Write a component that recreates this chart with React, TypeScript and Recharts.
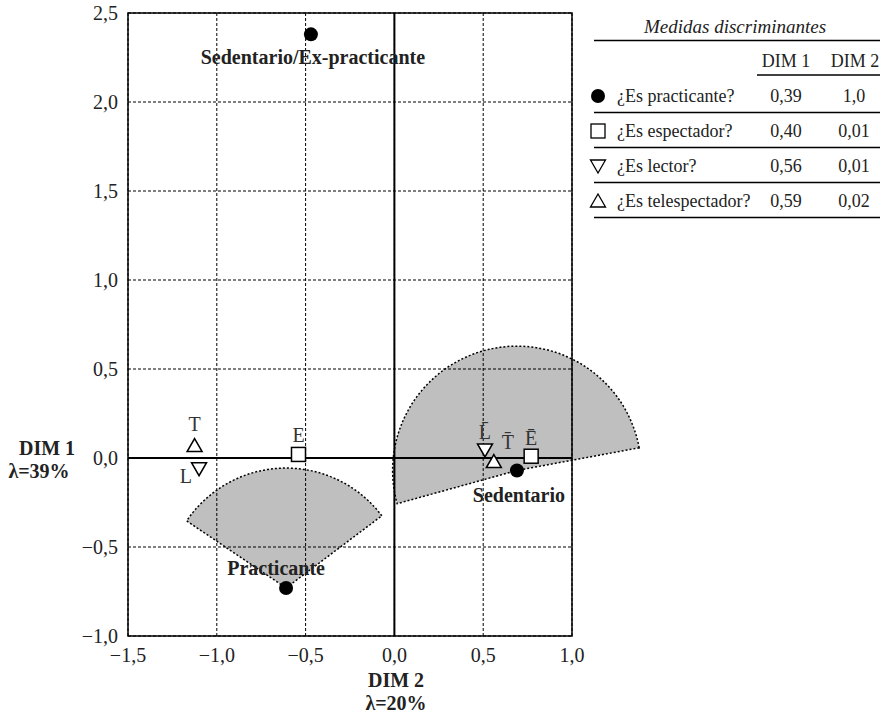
import { ScatterChart, Scatter, XAxis, YAxis, CartesianGrid, ReferenceLine, ReferenceArea, Sector } from 'recharts';

// axis ticks
const X_TICKS = [-1.5, -1, -0.5, 0, 0.5, 1];
const Y_TICKS = [-1, -0.5, 0, 0.5, 1, 1.5, 2, 2.5];

// category points (DIM 2 = x, DIM 1 = y)
const PRACTICANTE = [
  { x: -0.47, y: 2.38, label: 'Sedentario/Ex-practicante' },
  { x: -0.61, y: -0.73, label: 'Practicante' },
  { x: 0.69, y: -0.07, label: 'Sedentario' },
];
const ESPECTADOR = [
  { x: -0.54, y: 0.02, label: 'E' },
  { x: 0.77, y: 0.01, label: 'Ē' },
];
const LECTOR = [
  { x: -1.1, y: -0.06, label: 'L' },
  { x: 0.51, y: 0.045, label: 'L̄' },
];
const TELESPECTADOR = [
  { x: -1.125, y: 0.07, label: 'T' },
  { x: 0.56, y: -0.02, label: 'T̄' },
];

// shaded zones: centre, radius (axis units), angle span in degrees
const ZONES = [
  { x: -0.61, y: -0.73, r: 0.675, from: 37, to: 146 },
  { x: 0.69, y: -0.07, r: 0.7, from: 10.5, to: 195.5 },
];

// discriminant measures table
const MEASURES = ['¿Es practicante?', '¿Es espectador?', '¿Es lector?', '¿Es telespectador?'];
const DIM1_VALUES = ['0,39', '0,40', '0,56', '0,59'];
const DIM2_VALUES = ['1,0', '0,01', '0,01', '0,02'];

const FONT = '"Liberation Serif", "DejaVu Serif", serif';
const PLOT_W = 444;
const PX_PER_UNIT = PLOT_W / 2.5;

// label placement relative to marker
const LABEL_POS: Record<string, { dx: number; dy: number; anchor?: string; bold?: boolean }> = {
  'Sedentario/Ex-practicante': { dx: 2, dy: 30, bold: true },
  Practicante: { dx: -10, dy: -13, bold: true },
  Sedentario: { dx: 2, dy: 32, bold: true },
  E: { dx: 0, dy: -12 },
  'Ē': { dx: 0, dy: -11 },
  L: { dx: -7, dy: 14, anchor: 'end' },
  'L̄': { dx: 0, dy: -11 },
  T: { dx: 0, dy: -15 },
  'T̄': { dx: 14, dy: -13 },
};

const fmt = (v: number) => (v < 0 ? '−' : '') + Math.abs(v).toFixed(1).replace('.', ',');

function PointLabel({ cx, cy, text }: { cx: number; cy: number; text: string }) {
  const p = LABEL_POS[text] || { dx: 0, dy: -12 };
  return (
    <text
      x={cx + p.dx}
      y={cy + p.dy}
      textAnchor={p.anchor || 'middle'}
      fontFamily={FONT}
      fontSize={20}
      fontWeight={p.bold ? 'bold' : 'normal'}
      fill={p.bold ? '#222' : '#333'}
    >
      {text}
    </text>
  );
}

const CircleShape = (props: any) => (
  <g>
    <circle cx={props.cx} cy={props.cy} r={7} fill="#000" />
    <PointLabel cx={props.cx} cy={props.cy} text={props.payload.label} />
  </g>
);

const SquareShape = (props: any) => (
  <g>
    <rect x={props.cx - 7} y={props.cy - 7} width={14} height={14} fill="#fff" stroke="#000" strokeWidth={1.5} />
    <PointLabel cx={props.cx} cy={props.cy} text={props.payload.label} />
  </g>
);

const DownShape = (props: any) => {
  const { cx, cy } = props;
  return (
    <g>
      <polygon points={`${cx - 7.5},${cy - 6} ${cx + 7.5},${cy - 6} ${cx},${cy + 7}`} fill="#fff" stroke="#000" strokeWidth={1.5} />
      <PointLabel cx={cx} cy={cy} text={props.payload.label} />
    </g>
  );
};

const UpShape = (props: any) => {
  const { cx, cy } = props;
  return (
    <g>
      <polygon points={`${cx},${cy - 7} ${cx + 7.5},${cy + 6} ${cx - 7.5},${cy + 6}`} fill="#fff" stroke="#000" strokeWidth={1.5} />
      <PointLabel cx={cx} cy={cy} text={props.payload.label} />
    </g>
  );
};

const ZoneShape = (props: any) => (
  <Sector
    cx={props.cx}
    cy={props.cy}
    innerRadius={0}
    outerRadius={props.payload.r * PX_PER_UNIT}
    startAngle={props.payload.from}
    endAngle={props.payload.to}
    fill="#000"
    fillOpacity={0.25}
    stroke="#000"
    strokeWidth={1.5}
    strokeDasharray="2 2"
  />
);

const ICONS = [
  (x: number, y: number) => <circle cx={x} cy={y} r={7} fill="#000" />,
  (x: number, y: number) => <rect x={x - 7} y={y - 7} width={14} height={14} fill="#fff" stroke="#000" strokeWidth={1.3} />,
  (x: number, y: number) => <polygon points={`${x - 7.5},${y - 6} ${x + 7.5},${y - 6} ${x},${y + 7}`} fill="#fff" stroke="#000" strokeWidth={1.3} />,
  (x: number, y: number) => <polygon points={`${x},${y - 7} ${x + 7.5},${y + 6} ${x - 7.5},${y + 6}`} fill="#fff" stroke="#000" strokeWidth={1.3} />,
];

export default function App() {
  const tick = { fontFamily: FONT, fontSize: 20, fill: '#222' };
  return (
    <div style={{ position: 'absolute', left: 0, top: 0, width: 889, height: 715, background: '#fff' }}>
      <ScatterChart width={660} height={715} margin={{ top: 13, right: 88, bottom: 49, left: 68 }}>
        <CartesianGrid stroke="#000" strokeDasharray="3 2" strokeWidth={1} />
        <XAxis
          type="number"
          dataKey="x"
          domain={[-1.5, 1]}
          ticks={X_TICKS}
          tickFormatter={fmt}
          axisLine={false}
          tickLine={false}
          tickMargin={6}
          height={30}
          tick={tick}
        />
        <YAxis
          type="number"
          dataKey="y"
          domain={[-1, 2.5]}
          ticks={Y_TICKS}
          tickFormatter={fmt}
          axisLine={false}
          tickLine={false}
          tickMargin={4}
          width={60}
          tick={tick}
        />
        <ReferenceArea x1={-1.5} x2={1} y1={-1} y2={2.5} fill="none" stroke="#000" strokeWidth={1.5} />
        <ReferenceLine x={0} stroke="#000" strokeWidth={2} />
        <ReferenceLine y={0} stroke="#000" strokeWidth={2} />
        <Scatter data={ZONES} shape={ZoneShape} isAnimationActive={false} />
        <Scatter data={LECTOR} shape={DownShape} isAnimationActive={false} />
        <Scatter data={TELESPECTADOR} shape={UpShape} isAnimationActive={false} />
        <Scatter data={ESPECTADOR} shape={SquareShape} isAnimationActive={false} />
        <Scatter data={PRACTICANTE} shape={CircleShape} isAnimationActive={false} />
      </ScatterChart>

      <svg width={889} height={715} style={{ position: 'absolute', left: 0, top: 0, pointerEvents: 'none' }}>
        <g fontFamily={FONT} fill="#222">
          {/* axis titles */}
          <text x={47} y={455} textAnchor="middle" fontSize={20} fontWeight="bold">DIM 1</text>
          <text x={39} y={478} textAnchor="middle" fontSize={20} fontWeight="bold">λ=39%</text>
          <text x={396} y={687} textAnchor="middle" fontSize={20} fontWeight="bold">DIM 2</text>
          <text x={396} y={710} textAnchor="middle" fontSize={20} fontWeight="bold">λ=20%</text>

          {/* measures table */}
          <text x={735} y={33} textAnchor="middle" fontSize={19} fontStyle="italic">Medidas discriminantes</text>
          <line x1={594} x2={880} y1={40.5} y2={40.5} stroke="#000" strokeWidth={1.5} />
          <text x={786} y={67} textAnchor="middle" fontSize={18}>DIM 1</text>
          <text x={855} y={67} textAnchor="middle" fontSize={18}>DIM 2</text>
          <line x1={757} x2={880} y1={75} y2={75} stroke="#000" strokeWidth={1.5} />
          {MEASURES.map((m, i) => {
            const base = 102 + i * 35;
            return (
              <g key={m}>
                {ICONS[i](598, base - 6)}
                <text x={617} y={base} fontSize={18}>{m}</text>
                <text x={786} y={base} textAnchor="middle" fontSize={18}>{DIM1_VALUES[i]}</text>
                <text x={854} y={base} textAnchor="middle" fontSize={18}>{DIM2_VALUES[i]}</text>
                <line x1={594} x2={880} y1={base + 10.5} y2={base + 10.5} stroke="#000" strokeWidth={1.5} />
              </g>
            );
          })}
        </g>
      </svg>
    </div>
  );
}
